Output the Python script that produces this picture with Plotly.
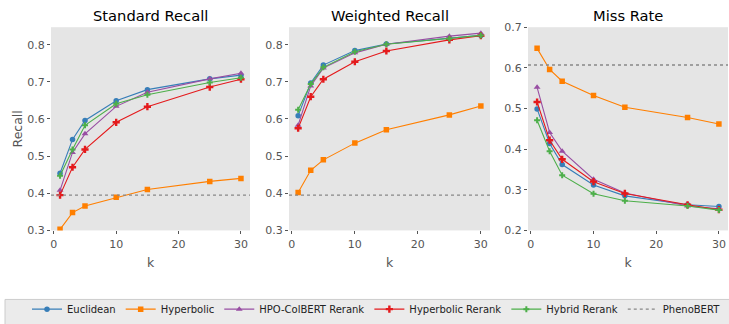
import plotly.graph_objects as go

k = [1, 3, 5, 10, 15, 25, 30]
methods = ["Euclidean", "Hyperbolic", "HPO-ColBERT Rerank", "Hyperbolic Rerank", "Hybrid Rerank"]

std_euclidean = [0.454, 0.545, 0.596, 0.649, 0.679, 0.708, 0.718]
std_hyperbolic = [0.303, 0.348, 0.366, 0.389, 0.410, 0.432, 0.440]
std_hpo = [0.408, 0.510, 0.560, 0.634, 0.672, 0.708, 0.723]
std_hyprerank = [0.395, 0.470, 0.518, 0.591, 0.633, 0.686, 0.707]
std_hybrid = [0.447, 0.518, 0.583, 0.641, 0.665, 0.698, 0.711]
std_phenobert = 0.395

w_euclidean = [0.609, 0.697, 0.745, 0.784, 0.802, 0.818, 0.825]
w_hyperbolic = [0.402, 0.462, 0.490, 0.535, 0.571, 0.611, 0.635]
w_hpo = [0.583, 0.689, 0.737, 0.778, 0.801, 0.823, 0.831]
w_hyprerank = [0.575, 0.660, 0.707, 0.754, 0.783, 0.813, 0.824]
w_hybrid = [0.625, 0.694, 0.739, 0.781, 0.801, 0.816, 0.825]
w_phenobert = 0.395

m_euclidean = [0.499, 0.414, 0.362, 0.312, 0.285, 0.263, 0.259]
m_hyperbolic = [0.648, 0.596, 0.567, 0.532, 0.503, 0.478, 0.462]
m_hpo = [0.552, 0.441, 0.395, 0.326, 0.292, 0.260, 0.253]
m_hyprerank = [0.516, 0.422, 0.375, 0.320, 0.291, 0.263, 0.251]
m_hybrid = [0.471, 0.395, 0.336, 0.290, 0.273, 0.260, 0.250]
m_phenobert = 0.607

titles = ["Standard Recall", "Weighted Recall", "Miss Rate"]
panels = [
    [std_euclidean, std_hyperbolic, std_hpo, std_hyprerank, std_hybrid, std_phenobert],
    [w_euclidean, w_hyperbolic, w_hpo, w_hyprerank, w_hybrid, w_phenobert],
    [m_euclidean, m_hyperbolic, m_hpo, m_hyprerank, m_hybrid, m_phenobert],
]

colors = ["#377eb8", "#ff7f00", "#984ea3", "#e41a1c", "#4daf4a"]
symbols = ["circle", "square", "triangle-up", "cross", "cross"]
sizes = [5.5, 5.5, 6, 6, 5]

W, H = 729, 324
xdoms = [(51, 250), (289, 490), (528, 728)]
ytop, ybot = 28, 237
yranges = [[0.3, 0.847], [0.3, 0.847], [0.2, 0.7]]
yticks = [[0.3, 0.4, 0.5, 0.6, 0.7, 0.8], [0.3, 0.4, 0.5, 0.6, 0.7, 0.8], [0.2, 0.3, 0.4, 0.5, 0.6, 0.7]]

fig = go.Figure()
font = "DejaVu Sans"
for p in range(3):
    xa = "x" if p == 0 else f"x{p+1}"
    ya = "y" if p == 0 else f"y{p+1}"
    data = panels[p]
    for i, name in enumerate(methods):
        fig.add_trace(go.Scatter(
            x=k, y=data[i], mode="lines+markers", name=name,
            line=dict(color=colors[i], width=1.1),
            marker=dict(symbol=symbols[i], size=sizes[i], color=colors[i]),
            xaxis=xa, yaxis=ya, showlegend=(p == 0), legendgroup=name,
        ))
    fig.add_trace(go.Scatter(
        x=[-0.45, 31.45], y=[data[5], data[5]], mode="lines", name="PhenoBERT",
        line=dict(color="#888888", width=1.3, dash="dot"),
        xaxis=xa, yaxis=ya, showlegend=(p == 0), legendgroup="PhenoBERT",
    ))
    x0, x1 = xdoms[p]
    axcommon = dict(showgrid=False, zeroline=False, ticks="outside", ticklen=3,
                    tickcolor="#555555", tickfont=dict(family=font, size=11, color="#555555"),
                    showline=False, automargin=False)
    fig.layout[("xaxis" if p == 0 else f"xaxis{p+1}")] = dict(
        domain=[x0 / W, x1 / W], anchor=ya, range=[-0.45, 31.45],
        tickvals=[0, 10, 20, 30],
        title=dict(text="k", font=dict(family=font, size=12.5, color="#555555"), standoff=8),
        **axcommon)
    fig.layout[("yaxis" if p == 0 else f"yaxis{p+1}")] = dict(
        domain=[1 - ybot / H, 1 - ytop / H], anchor=xa, range=yranges[p],
        tickvals=yticks[p], tickformat=".1f",
        title=dict(text="Recall" if p == 0 else "", font=dict(family=font, size=12.5, color="#555555"), standoff=1),
        **axcommon)
    fig.add_annotation(text=titles[p], x=(x0 + x1) / 2 / W, y=1 - 16 / H, xref="paper", yref="paper",
                       showarrow=False, font=dict(family=font, size=14.7, color="#000000"),
                       xanchor="center", yanchor="middle")

# legend frame
fig.add_shape(type="rect", xref="paper", yref="paper", x0=5 / W, x1=1.01, y0=-0.05, y1=1 - 308 / H,
              fillcolor="#EBEBEB", line=dict(color="#CCCCCC", width=1), layer="below")

fig.update_layout(
    width=W, height=H, margin=dict(l=0, r=0, t=0, b=0),
    paper_bgcolor="white", plot_bgcolor="#E5E5E5",
    font=dict(family=font),
    legend=dict(orientation="h", x=27 / W, y=1 - 318 / H, xanchor="left", yanchor="middle",
                bgcolor="rgba(0,0,0,0)", borderwidth=0,
                font=dict(family=font, size=10, color="#222222"), tracegroupgap=0,
                itemwidth=30, itemsizing="trace"),
)

fig.write_html("out.html", config={"displayModeBar": False},
               post_script="document.body.style.margin='0';document.body.style.padding='0';")
